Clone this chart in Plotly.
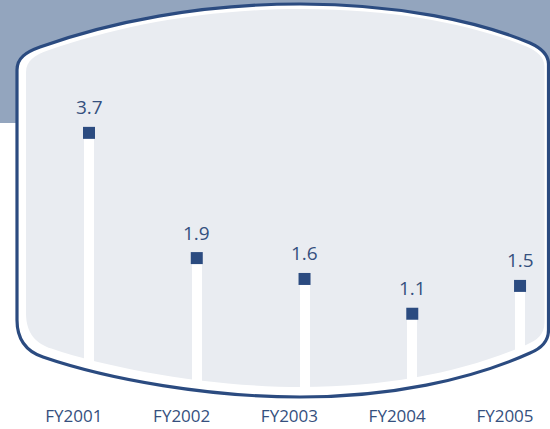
import plotly.graph_objects as go

categories = ["FY2001", "FY2002", "FY2003", "FY2004", "FY2005"]
values = [3.7, 1.9, 1.6, 1.1, 1.5]
value_labels = ["3.7", "1.9", "1.6", "1.1", "1.5"]

W, H = 550, 429
MB = 29
PH = H - MB

NAVY = "#2b4b80"
TEXT = "#35507e"
PANEL = "#e9ecf1"
HEADER = "#93a5be"

# decorative panel outline in pixel coords (segments)
outline = [
    ("M", [(17, 70)]),
    ("C", [(17, 58), (26, 52), (40, 47)]),
    ("C", [(110, 22), (200, 4), (300, 4)]),
    ("C", [(400, 4), (480, 22), (530, 43)]),
    ("C", [(541, 48), (548.5, 54), (548.5, 64)]),
    ("L", [(548.5, 330)]),
    ("C", [(548.5, 343), (540, 349), (530, 353)]),
    ("C", [(470, 380), (390, 397), (300, 397)]),
    ("C", [(210, 397), (110, 380), (43, 357)]),
    ("C", [(28, 352), (17, 342), (17, 320)]),
    ("Z", []),
]


def to_path(segs, ax=0.0, bx=1.0, ay=0.0, by=1.0):
    parts = []
    for cmd, pts in segs:
        s = cmd
        for (x, y) in pts:
            x2 = ax + bx * x
            y2 = ay + by * y
            s += f" {x2 / W:.5f},{(PH - y2) / PH:.5f}"
        parts.append(s)
    return " ".join(parts)


fig = go.Figure()

fig.add_trace(go.Bar(
    x=categories, y=[v + 0.14 for v in values], base=-0.14,
    width=0.093, marker=dict(color="white", line=dict(width=0)),
    hoverinfo="skip", showlegend=False,
))
fig.add_trace(go.Scatter(
    x=categories, y=values, mode="markers",
    marker=dict(symbol="square", size=12, color=NAVY, line=dict(width=0)),
    showlegend=False,
))
fig.add_trace(go.Scatter(
    x=list(range(len(categories))), y=values, xaxis="x2", mode="markers",
    marker=dict(size=1, opacity=0), hoverinfo="skip", showlegend=False,
))

for c, v, t in zip(categories, values, value_labels):
    fig.add_annotation(x=c, y=v, text=t, showarrow=False, yshift=25.5,
                       yanchor="middle",
                       font=dict(family="Open Sans", size=19, color=TEXT))

shapes = [
    dict(type="rect", xref="paper", yref="paper", x0=0, x1=1,
         y0=(PH - 123) / PH, y1=PH / PH, fillcolor=HEADER,
         line=dict(width=0), layer="below"),
    dict(type="path", xref="paper", yref="paper", path=to_path(outline),
         fillcolor="white", line=dict(width=0), layer="below"),
    dict(type="path", xref="paper", yref="paper",
         path=to_path(outline, 9.416, 0.97554, 5.153, 0.96183),
         fillcolor=PANEL, line=dict(width=0), layer="below"),
    dict(type="path", xref="paper", yref="paper", path=to_path(outline),
         fillcolor="rgba(0,0,0,0)", line=dict(width=3.2, color=NAVY),
         layer="above"),
]

fig.update_layout(
    width=W, height=H,
    margin=dict(l=0, r=0, t=0, b=MB),
    paper_bgcolor="white", plot_bgcolor="rgba(0,0,0,0)",
    shapes=shapes,
    bargap=0,
    xaxis=dict(type="category", range=[-0.826, 4.278], showticklabels=False,
               showgrid=False, zeroline=False, showline=False, ticks=""),
    xaxis2=dict(overlaying="x", anchor="y", side="bottom", range=[-0.686, 4.418],
                tickvals=list(range(len(categories))), ticktext=categories,
                showgrid=False, zeroline=False, showline=False, ticks="",
                ticklabelstandoff=4,
                tickfont=dict(family="Open Sans", size=17, color=TEXT)),
    yaxis=dict(range=[-0.14, 5.61], visible=False, showgrid=False, zeroline=False),
)

fig.write_html("out.html")
